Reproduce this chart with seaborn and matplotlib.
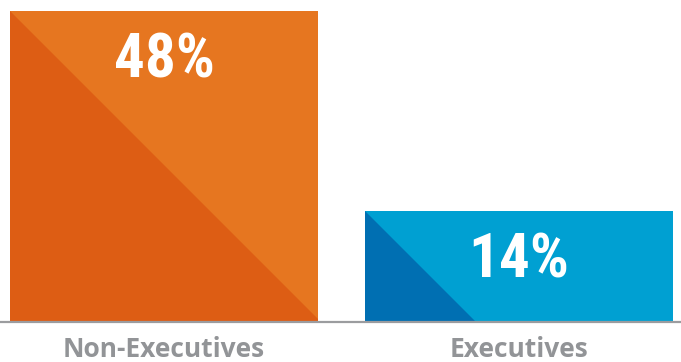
import matplotlib
matplotlib.use("Agg")
import matplotlib.pyplot as plt
import seaborn as sns
import pandas as pd
from matplotlib.patches import Polygon
from matplotlib import font_manager

# data
groups = ["Non-Executives", "Executives"]
shares = [48, 14]
light_colors = ["#E67620", "#00A0D2"]
dark_colors = ["#DD5D14", "#006FB2"]

axis_floor = -5  # baseline of the graphic sits a bit below zero

df = pd.DataFrame({"group": groups, "share": shares})

sns.set_style("white")
names = {f.name for f in font_manager.fontManager.ttflist}
narrow = [n for n in ["Liberation Sans Narrow", "Roboto Condensed", "Open Sans Condensed"] if n in names]
plt.rcParams["font.family"] = ["Open Sans", "DejaVu Sans"]
value_family = narrow + ["DejaVu Sans"]
stretch = "normal" if narrow else "condensed"

fig = plt.figure(figsize=(6.81, 3.62), dpi=100)
ax = fig.add_axes([0, 40 / 362, 1, 322 / 362])

sns.barplot(data=df, x="group", y="share", hue="group", palette=light_colors,
            legend=False, width=0.868, saturation=1, ax=ax)

bars = list(ax.patches)
for p, v in zip(bars, shares):
    p.set_y(axis_floor)
    p.set_height(v - axis_floor)
    p.set_linewidth(0)

ax.set_xlim(-0.462, 1.456)
ax.set_ylim(axis_floor, 49.9)

# darker triangle in the lower left of each bar (45 degree cut)
trans = ax.transData
for p, dark in zip(bars, dark_colors):
    x0, y0, h = p.get_x(), p.get_y(), p.get_height()
    px0, py0 = trans.transform((x0, y0))
    _, py1 = trans.transform((x0, y0 + h))
    x_end = trans.inverted().transform((px0 + (py1 - py0), py0))[0]
    tri = Polygon([(x0, y0 + h), (x0, y0), (x_end, y0)], closed=True,
                  facecolor=dark, linewidth=0)
    ax.add_patch(tri)
    tri.set_clip_path(p)

# value labels
for i, v in enumerate(shares):
    ax.annotate(f"{v}%", xy=(i, v), xytext=(0, -15), textcoords="offset points",
                ha="center", va="top", fontsize=44, fontweight="bold",
                family=value_family, fontstretch=stretch, color="white")

for side in ["top", "left", "right"]:
    ax.spines[side].set_visible(False)
ax.spines["bottom"].set_color("#9B9C9F")
ax.spines["bottom"].set_linewidth(1.6)

ax.set_yticks([])
ax.set_xlabel("")
ax.set_ylabel("")
ax.tick_params(axis="x", length=0, pad=10, labelsize=19, labelcolor="#929497")
for lbl in ax.get_xticklabels():
    lbl.set_fontweight("bold")

fig.savefig("out.png", dpi=100)
